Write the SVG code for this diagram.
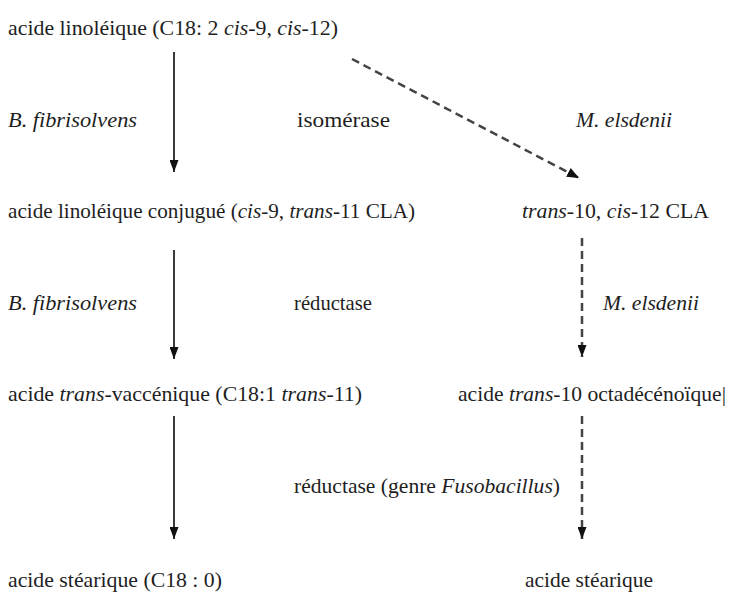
<svg xmlns="http://www.w3.org/2000/svg" width="730" height="592" viewBox="0 0 730 592">
<defs>
<style>
text{font-family:"Liberation Serif","Times New Roman",serif;font-size:21px;fill:#1e1e1e;}
.i{font-style:italic;}
.solid{stroke:#3a3a3a;stroke-width:2;fill:none;}
.dash{stroke:#444;stroke-width:2.5;fill:none;stroke-dasharray:8,5;}
</style>
<marker id="ah" viewBox="0 0 12 9" refX="12" refY="4.5" markerWidth="12" markerHeight="9" markerUnits="userSpaceOnUse" orient="auto">
<path d="M0,0 L12,4.5 L0,9 z" fill="#111"/>
</marker>
<marker id="ahd" viewBox="0 0 12 10" refX="12" refY="5" markerWidth="12" markerHeight="10" markerUnits="userSpaceOnUse" orient="auto">
<path d="M0,0 L12,5 L0,10 z" fill="#111"/>
</marker>
</defs>
<rect width="730" height="592" fill="#fff"/>
<g id="n1"><text x="8" y="35" textLength="330" lengthAdjust="spacingAndGlyphs">acide linoléique (C18: 2 <tspan class="i">cis</tspan>-9, <tspan class="i">cis</tspan>-12)</text></g>
<g id="n2"><text x="8" y="218" textLength="407" lengthAdjust="spacingAndGlyphs">acide linoléique conjugué (<tspan class="i">cis</tspan>-9, <tspan class="i">trans</tspan>-11 CLA)</text></g>
<g id="n3"><text x="522" y="218" textLength="187" lengthAdjust="spacingAndGlyphs"><tspan class="i">trans</tspan>-10, <tspan class="i">cis</tspan>-12 CLA</text></g>
<g id="n4"><text x="8" y="401" textLength="354" lengthAdjust="spacingAndGlyphs">acide <tspan class="i">trans</tspan>-vaccénique (C18:1 <tspan class="i">trans</tspan>-11)</text></g>
<g id="n5"><text x="458" y="401" textLength="268" lengthAdjust="spacingAndGlyphs">acide <tspan class="i">trans</tspan>-10 octadécénoïque|</text></g>
<g id="n6"><text x="8" y="587" textLength="214" lengthAdjust="spacingAndGlyphs">acide stéarique (C18 : 0)</text></g>
<g id="n7"><text x="525" y="587" textLength="128" lengthAdjust="spacingAndGlyphs">acide stéarique</text></g>
<g id="labels">
<text class="i" x="8" y="127" textLength="129" lengthAdjust="spacingAndGlyphs">B. fibrisolvens</text>
<text x="297" y="127" textLength="93" lengthAdjust="spacingAndGlyphs">isomérase</text>
<text class="i" x="576" y="127" textLength="96" lengthAdjust="spacingAndGlyphs">M. elsdenii</text>
<text class="i" x="8" y="310" textLength="129" lengthAdjust="spacingAndGlyphs">B. fibrisolvens</text>
<text x="294" y="310" textLength="78" lengthAdjust="spacingAndGlyphs">réductase</text>
<text class="i" x="603" y="310" textLength="96" lengthAdjust="spacingAndGlyphs">M. elsdenii</text>
<text x="294" y="493" textLength="266" lengthAdjust="spacingAndGlyphs">réductase (genre <tspan class="i">Fusobacillus</tspan>)</text>
</g>
<g id="connectors">
<line class="solid" x1="174" y1="52" x2="174" y2="172" marker-end="url(#ah)"/>
<line class="dash" x1="352" y1="59" x2="579" y2="178" marker-end="url(#ahd)"/>
<line class="solid" x1="174" y1="250" x2="174" y2="359" marker-end="url(#ah)"/>
<line class="dash" x1="582" y1="238" x2="582" y2="357" marker-end="url(#ah)"/>
<line class="solid" x1="174" y1="416" x2="174" y2="539" marker-end="url(#ah)"/>
<line class="dash" x1="582" y1="416" x2="582" y2="539" marker-end="url(#ah)"/>
</g>
</svg>
